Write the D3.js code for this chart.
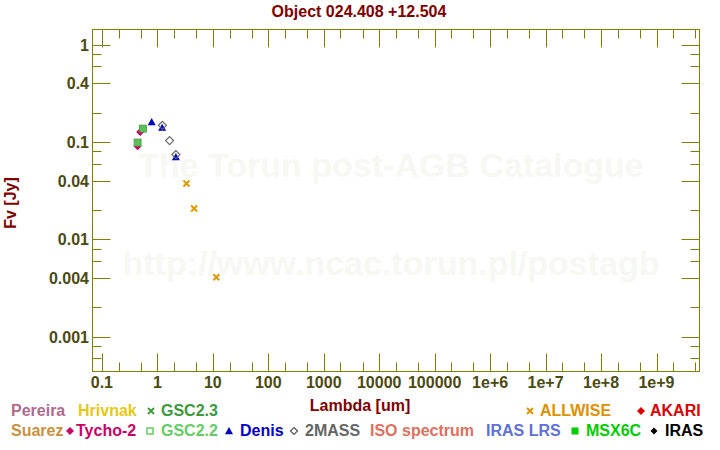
<!DOCTYPE html>
<html><head><meta charset="utf-8">
<script src="https://cdn.jsdelivr.net/npm/d3@7"></script>
<style>
html,body{margin:0;padding:0;background:#fff;}
svg{display:block;font-family:"Liberation Sans",Arial,sans-serif;font-weight:bold;}
</style></head>
<body><svg id="c" width="720" height="450"></svg>
<script>
const title = "Object 024.408 +12.504";
const xTickValues = [0.1,1,10,100,1000,10000,100000,1e6,1e7,1e8,1e9];
const xTickLabels = ["0.1","1","10","100","1000","10000","100000","1e+6","1e+7","1e+8","1e+9"];
const yTickValues = [1,0.4,0.1,0.04,0.01,0.004,0.001];
const yTickLabels = ["1","0.4","0.1","0.04","0.01","0.004","0.001"];
const yMinorValues = [0.8,0.6,0.2,0.08,0.06,0.02,0.008,0.006,0.002,0.0008,0.0006];

// photometry (wavelength um, flux Jy)
const tychoLambda = [0.44, 0.49];
const tychoFlux   = [0.0905, 0.1268];
const gsc22Lambda = [0.44, 0.55];
const gsc22Flux   = [0.0988, 0.1375];
const denisLambda = [0.79, 1.22, 2.16];
const denisFlux   = [0.1607, 0.1407, 0.0703];
const tmassLambda = [1.235, 1.662, 2.159];
const tmassFlux   = [0.1486, 0.1035, 0.0744];
const allwiseLambda = [3.35, 4.6, 11.56];
const allwiseFlux   = [0.0375, 0.02077, 0.00407];

const legendRow1 = ["Pereira","Hrivnak","GSC2.3","ALLWISE","AKARI"];
const legendRow2 = ["Suarez","Tycho-2","GSC2.2","Denis","2MASS","ISO spectrum","IRAS LRS","MSX6C","IRAS"];

const svg = d3.select("#c");
const L=92.5, R=699.5, T=29.5, B=371.5;
const x = d3.scaleLog().domain([0.0677, 5.96e9]).range([L, R]);
const y = d3.scaleLog().domain([0.000438, 1.436]).range([B, T]);
const frameCol = "#808000", tickTxt = "#4a4a12", dark = "#800000";

// watermark
svg.append("text").attr("x",391).attr("y",177).attr("text-anchor","middle")
  .attr("font-size",34).attr("fill","#f7f7f3").text("The Torun post-AGB Catalogue");
svg.append("text").attr("x",391).attr("y",275).attr("text-anchor","middle")
  .attr("font-size",34).attr("fill","#f7f7f3").text("http://www.ncac.torun.pl/postagb");

// frame
svg.append("rect").attr("x",L).attr("y",T).attr("width",R-L).attr("height",B-T)
  .attr("fill","none").attr("stroke",frameCol).attr("stroke-width",1);

// x ticks
const xMinor = [];
for (let e=-1; e<=9; e++) { [2,5].forEach(m => { const v=m*Math.pow(10,e); if (x(v)<R) xMinor.push(v); }); }
const g = svg.append("g").attr("stroke",frameCol).attr("stroke-width",1);
xTickValues.forEach(v => {
  const px = Math.round(x(v))+0.5;
  g.append("line").attr("x1",px).attr("x2",px).attr("y1",B).attr("y2",B-18);
  g.append("line").attr("x1",px).attr("x2",px).attr("y1",T).attr("y2",T+18);
});
xMinor.forEach(v => {
  const px = Math.round(x(v))+0.5;
  g.append("line").attr("x1",px).attr("x2",px).attr("y1",B).attr("y2",B-9);
  g.append("line").attr("x1",px).attr("x2",px).attr("y1",T).attr("y2",T+9);
});
yTickValues.forEach(v => {
  const py = Math.round(y(v))+0.5;
  g.append("line").attr("y1",py).attr("y2",py).attr("x1",L).attr("x2",L+18);
  g.append("line").attr("y1",py).attr("y2",py).attr("x1",R).attr("x2",R-18);
});
yMinorValues.forEach(v => {
  const py = Math.round(y(v))+0.5;
  g.append("line").attr("y1",py).attr("y2",py).attr("x1",L).attr("x2",L+9);
  g.append("line").attr("y1",py).attr("y2",py).attr("x1",R).attr("x2",R-9);
});
// tick labels
xTickValues.forEach((v,i) => {
  svg.append("text").attr("x",x(v)).attr("y",388).attr("text-anchor","middle")
    .attr("font-size",16).attr("fill",tickTxt).text(xTickLabels[i]);
});
yTickValues.forEach((v,i) => {
  svg.append("text").attr("x",89).attr("y",y(v)+6).attr("text-anchor","end")
    .attr("font-size",16).attr("fill",tickTxt).text(yTickLabels[i]);
});

// titles
svg.append("text").attr("x",359).attr("y",17).attr("text-anchor","middle")
  .attr("font-size",16).attr("fill",dark).text(title);
svg.append("text").attr("x",360).attr("y",411).attr("text-anchor","middle")
  .attr("font-size",16).attr("fill",dark).text("Lambda [um]");
svg.append("text").attr("transform","translate(16,203) rotate(-90)").attr("text-anchor","middle")
  .attr("font-size",16).attr("fill",dark).text("Fv [Jy]");

// markers
const diamond = s => `M0,${-s}L${s},0L0,${s}L${-s},0Z`;
const tri = s => `M0,${-s}L${s},${s*0.8}L${-s},${s*0.8}Z`;
const cross = s => `M${-s},${-s}L${s},${s}M${-s},${s}L${s},${-s}`;
const pts = (la, fl) => la.map((l,i)=>({l, f:fl[i]}));
const plot = svg.append("g");
plot.selectAll(".ty").data(pts(tychoLambda,tychoFlux)).join("path")
  .attr("transform",d=>`translate(${x(d.l)},${y(d.f)})`).attr("d",diamond(4)).attr("fill","#cc0066");
plot.selectAll(".gs").data(pts(gsc22Lambda,gsc22Flux)).join("rect")
  .attr("x",d=>x(d.l)-3.5).attr("y",d=>y(d.f)-3.5).attr("width",7).attr("height",7)
  .attr("fill","#5cbf5c").attr("stroke","#3f9f3f").attr("stroke-width",0.8);
plot.selectAll(".de").data(pts(denisLambda,denisFlux)).join("path")
  .attr("transform",d=>`translate(${x(d.l)},${y(d.f)})`).attr("d",tri(4)).attr("fill","#0000cc");
plot.selectAll(".tm").data(pts(tmassLambda,tmassFlux)).join("path")
  .attr("transform",d=>`translate(${x(d.l)},${y(d.f)})`).attr("d",diamond(4)).attr("fill","none")
  .attr("stroke","#666666").attr("stroke-width",1.2);
plot.selectAll(".aw").data(pts(allwiseLambda,allwiseFlux)).join("path")
  .attr("transform",d=>`translate(${x(d.l)},${y(d.f)})`).attr("d",cross(3)).attr("fill","none")
  .attr("stroke","#e09a00").attr("stroke-width",2);

// legend
const leg = svg.append("g").attr("font-size",16);
function lt(tx, ty, txt, col){ leg.append("text").attr("x",tx).attr("y",ty).attr("fill",col).text(txt); }
function lsym(cx, cy, type, col){
  const p = leg.append("path").attr("transform",`translate(${cx},${cy})`);
  if(type==="cross") p.attr("d",cross(3)).attr("stroke",col).attr("stroke-width",1.8).attr("fill","none");
  if(type==="diamond") p.attr("d",diamond(4)).attr("fill",col);
  if(type==="odiamond") p.attr("d",diamond(3.5)).attr("fill","none").attr("stroke",col).attr("stroke-width",1.2);
  if(type==="tri") p.attr("d",tri(4)).attr("fill",col);
  if(type==="osq") p.attr("d","M-3,-3H3V3H-3Z").attr("fill","none").attr("stroke",col).attr("stroke-width",1.5);
  if(type==="sq") p.attr("d","M-3.5,-3.5H3.5V3.5H-3.5Z").attr("fill",col);
  if(type==="dot") p.attr("d",diamond(3.5)).attr("fill",col);
}
const r1=416, r2=436;
lt(11,r1,legendRow1[0],"#b06a8c");
lt(78,r1,legendRow1[1],"#e6c814");
lsym(151,r1-5,"cross","#3c9a3c"); lt(161,r1,legendRow1[2],"#3c9a3c");
lsym(530,r1-5,"cross","#e09000"); lt(540,r1,legendRow1[3],"#e09000");
lsym(641,r1-5,"diamond","#dd0000"); lt(650,r1,legendRow1[4],"#dd0000");

lt(11,r2,legendRow2[0],"#c8903c");
lsym(70,r2-5,"diamond","#cc0066"); lt(76,r2,legendRow2[1],"#cc0066");
lsym(150,r2-5,"osq","#66cc66"); lt(161,r2,legendRow2[2],"#66cc66");
lsym(229,r2-5,"tri","#0000cc"); lt(240,r2,legendRow2[3],"#0000cc");
lsym(294,r2-5,"odiamond","#555555"); lt(305,r2,legendRow2[4],"#666666");
lt(370,r2,legendRow2[5],"#e07060");
lt(486,r2,legendRow2[6],"#6070d8");
lsym(575,r2-5,"sq","#00cc00"); lt(586,r2,legendRow2[7],"#00cc00");
lsym(654,r2-5,"dot","#000000"); lt(665,r2,legendRow2[8],"#000000");
</script></body></html>
